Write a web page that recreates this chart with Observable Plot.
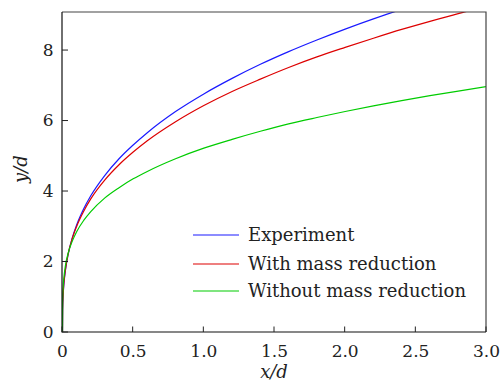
<!DOCTYPE html>
<html><head><meta charset="utf-8">
<script src="https://cdn.jsdelivr.net/npm/d3@7"></script>
<script src="https://cdn.jsdelivr.net/npm/@observablehq/plot@0.6"></script>
<style>body{margin:0;background:#fff}</style>
</head><body><div id="chart"></div>
<script>
const xs = [0, 0.001, 0.005, 0.01, 0.02, 0.04, 0.07, 0.1, 0.15, 0.2, 0.3, 0.4, 0.5, 0.6, 0.8, 1.0, 1.2, 1.4, 1.6, 1.8, 2.0, 2.2, 2.4, 2.6, 2.8, 3.0];
const experiment = [0, 0.62, 1.08, 1.37, 1.74, 2.22, 2.69, 3.05, 3.51, 3.88, 4.46, 4.93, 5.32, 5.67, 6.27, 6.77, 7.21, 7.61, 7.97, 8.30, 8.61, 8.90, 9.17, 9.43, null, null];
const withMass = [0, 0.66, 1.12, 1.41, 1.77, 2.23, 2.68, 3.01, 3.44, 3.79, 4.33, 4.76, 5.12, 5.44, 5.98, 6.44, 6.84, 7.19, 7.52, 7.82, 8.09, 8.35, 8.60, 8.83, 9.05, 9.25];
const withoutMass = [0, 0.86, 1.31, 1.56, 1.88, 2.25, 2.60, 2.86, 3.18, 3.43, 3.82, 4.11, 4.36, 4.57, 4.93, 5.23, 5.48, 5.71, 5.92, 6.10, 6.27, 6.43, 6.58, 6.72, 6.85, 6.98];
const seriesNames = ["Experiment", "With mass reduction", "Without mass reduction"];
const seriesColors = ["#1a1aff", "#dd0000", "#00cc00"];
const xTicks = [0, 0.5, 1.0, 1.5, 2.0, 2.5, 3.0];
const xTickLabels = ["0", "0.5", "1.0", "1.5", "2.0", "2.5", "3.0"];
const yTicks = [0, 2, 4, 6, 8];
const yTickLabels = ["0", "2", "4", "6", "8"];

const seriesValues = [experiment, withMass, withoutMass];
const rows = [];
seriesValues.forEach((vals, si) => {
  xs.forEach((x, i) => { if (vals[i] != null) rows.push({x, y: vals[i], s: seriesNames[si]}); });
});

const FONT = "'DejaVu Serif', 'Liberation Serif', serif";
const W = 501, H = 385, mL = 62, mR = 15, mT = 12, mB = 53;
const plot = Plot.plot({
  width: W, height: H,
  marginLeft: mL, marginRight: mR, marginTop: mT, marginBottom: mB,
  style: {fontFamily: FONT, fontSize: "17px", color: "#222", background: "#fff"},
  x: {domain: [0, 3], ticks: xTicks},
  y: {domain: [0, 9.08], ticks: yTicks},
  color: {domain: seriesNames, range: seriesColors},
  marks: [
    Plot.line(rows, {x: "x", y: "y", z: "s", stroke: "s", strokeWidth: 1.2, curve: "monotone-x", clip: true}),
    Plot.axisX({ticks: xTicks, tickSize: 0, tickPadding: 12, tickFormat: d => xTickLabels[xTicks.indexOf(d)], label: null, fontFamily: FONT}),
    Plot.axisY({ticks: yTicks, tickSize: 0, tickPadding: 9, tickFormat: d => yTickLabels[yTicks.indexOf(d)], label: null, fontFamily: FONT})
  ]
});
document.getElementById("chart").appendChild(plot);

const sx = plot.scale("x"), sy = plot.scale("y");
const svg = d3.select(plot);
const x0 = sx.apply(0), x1 = sx.apply(3), y0 = sy.apply(0), y1 = sy.apply(9.08);
const g = svg.append("g").attr("fill", "none");
g.append("path").attr("d", `M${x0},${y1}H${x1}V${y0}`).attr("stroke", "#444").attr("stroke-width", 1.2);
g.append("path").attr("d", `M${x0},${y1}V${y0}H${x1}`).attr("stroke", "#111").attr("stroke-width", 1.2);
xTicks.forEach(t => {
  const px = sx.apply(t);
  g.append("line").attr("x1", px).attr("x2", px).attr("y1", y0).attr("y2", y0 - 5.5).attr("stroke", "#222").attr("stroke-width", 1);
});
yTicks.forEach(t => {
  const py = sy.apply(t);
  g.append("line").attr("x1", x0).attr("x2", x0 + 6).attr("y1", py).attr("y2", py).attr("stroke", "#222").attr("stroke-width", 1);
});

svg.append("text").attr("x", 274).attr("y", 378).attr("text-anchor", "middle")
  .style("font-family", FONT).style("font-style", "italic").style("font-size", "18px").attr("fill", "#222").text("x/d");
svg.append("text").attr("transform", "translate(27,169) rotate(-90)").attr("text-anchor", "middle")
  .style("font-family", FONT).style("font-style", "italic").style("font-size", "18px").attr("fill", "#222").text("y/d");

const lg = svg.append("g");
const legendYs = [235, 264, 291];
seriesNames.forEach((n, i) => {
  lg.append("line").attr("x1", 193).attr("x2", 239).attr("y1", legendYs[i]).attr("y2", legendYs[i])
    .attr("stroke", seriesColors[i]).attr("stroke-width", 1.2);
  lg.append("text").attr("x", 248).attr("y", legendYs[i]).attr("dy", "0.32em").attr("text-anchor", "start")
    .style("font-family", FONT).style("font-size", "18px").attr("fill", "#222").text(n);
});
</script></body></html>
